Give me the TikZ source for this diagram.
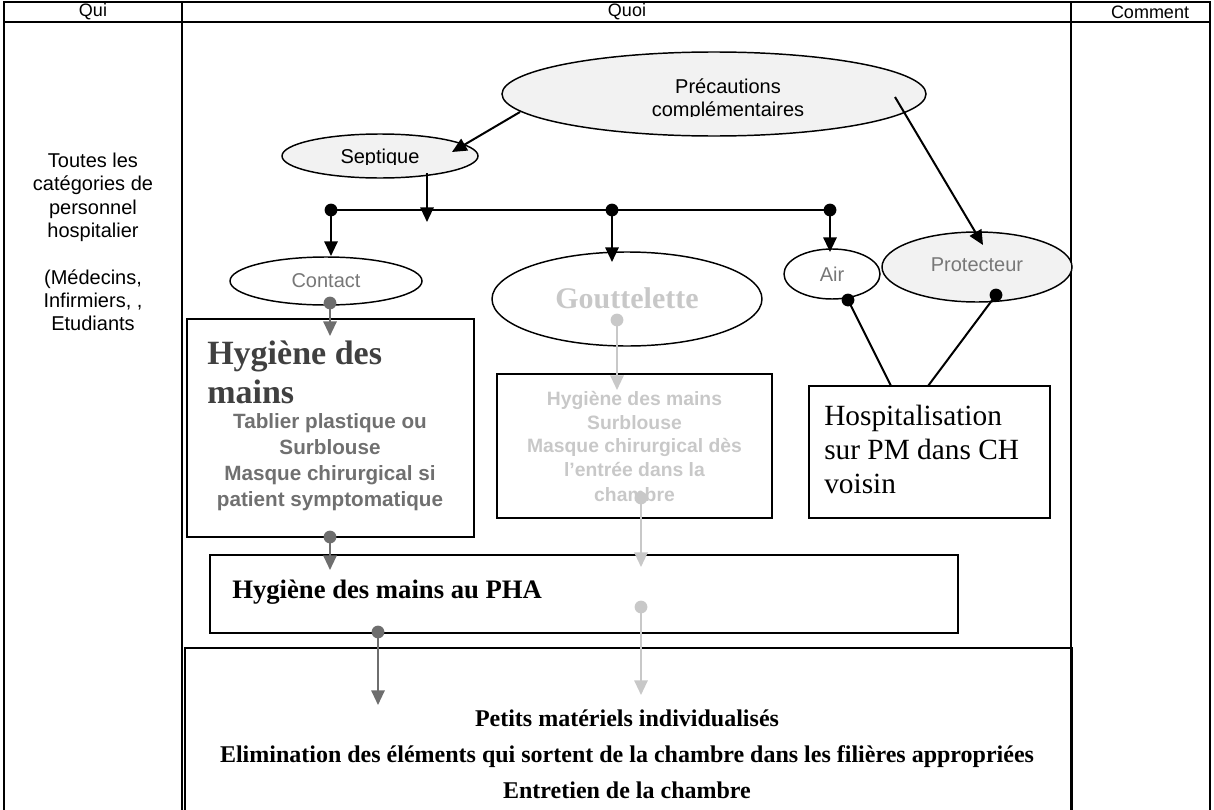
\documentclass[tikz,border=0pt]{standalone}
\usepackage{fontspec}
\setmainfont{Liberation Serif}
\newfontfamily\arialf{Liberation Sans}
\usetikzlibrary{arrows.meta,shapes.geometric}
\definecolor{lightfill}{HTML}{F2F2F2}
\definecolor{darkg}{HTML}{6E6E6E}
\definecolor{lightg}{HTML}{C8C8C8}
\definecolor{headg}{HTML}{404040}
\definecolor{txtg}{HTML}{707070}
\definecolor{lblg}{HTML}{777777}
\begin{document}
\begin{tikzpicture}[x=0.75pt,y=-0.75pt,
  tbl/.style={line width=1.4pt},
  ellnode/.style={draw, ellipse, line width=1.1pt, inner sep=0pt},
  boxnode/.style={draw, rectangle, line width=1.1pt, inner sep=0pt},
  conn/.style={line width=1.5pt, -{Triangle[length=11pt,width=10pt]}},
  plain/.style={line width=1.5pt},
  hdr/.style={font=\arialf\fontsize{13.5}{15}\selectfont, inner sep=0pt},
  lbl/.style={font=\arialf\fontsize{15}{17.5}\selectfont, inner sep=0pt, align=center},
  txt/.style={inner sep=0pt}
]
\useasboundingbox (0,0) rectangle (1214,810);
% table
\draw[tbl] (4,812) -- (4,2) -- (1210,2) -- (1210,812);
\draw[tbl] (4,22) -- (1210,22);
\draw[tbl] (182,2) -- (182,812);
\draw[tbl] (1071,2) -- (1071,812);
\node[hdr] (qui) at (93,12) {Qui};
\node[hdr] (quoi) at (627,12) {Quoi};
\node[hdr] (comment) at (1150,12) {Comment};
\node[lbl] (qui1) at (93,242) {Toutes les\\catégories de\\personnel\\hospitalier\\\mbox{}\\(Médecins,\\Infirmiers, ,\\Etudiants};

% ellipses
\node[ellnode, fill=lightfill, minimum width=318pt, minimum height=63pt] (prec) at (714,94) {};
\begin{scope}
\clip (480,60) rectangle (950,116);
\node[lbl] (prect) at (728,100) {Précautions\\complémentaires};
\end{scope}
\node[ellnode, fill=lightfill, minimum width=147pt, minimum height=33pt] (sept) at (380,156) {};
\begin{scope}
\clip (280,130) rectangle (480,164);
\node[lbl] (septt) at (380,158) {Septique};
\end{scope}
\node[ellnode, minimum width=144pt, minimum height=36pt, font=\arialf\fontsize{15}{17.5}\selectfont, text=lblg] (contact) at (326,281) {\raisebox{-3pt}{Contact}};
\node[ellnode, minimum width=202.5pt, minimum height=70.5pt, font=\bfseries\fontsize{22.5}{26}\selectfont, text=lightg] (goutt) at (627,299) {\raisebox{2pt}{Gouttelette}};
\node[ellnode, minimum width=72pt, minimum height=37.5pt, font=\arialf\fontsize{15}{17.5}\selectfont, text=lblg] (air) at (832,274) {Air};
\node[ellnode, fill=lightfill, minimum width=142.5pt, minimum height=52.5pt, font=\arialf\fontsize{15}{17.5}\selectfont, text=lblg] (prot) at (977,267) {\raisebox{4pt}{Protecteur}};

% boxes
\node[boxnode, minimum width=215.25pt, minimum height=163.5pt] (cbox) at (330.5,428) {};
\node[txt, anchor=west, font=\bfseries\fontsize{25.5}{29}\selectfont, text=headg, align=left] (cboxh) at (207,372.5) {Hygiène des\\mains};
\node[txt, font=\arialf\bfseries\fontsize{15.5}{19.5}\selectfont, text=txtg, align=center] (cboxt) at (330,462) {Tablier plastique ou\\Surblouse\\Masque chirurgical si\\patient symptomatique};

\node[boxnode, minimum width=206.25pt, minimum height=108pt, font=\arialf\bfseries\fontsize{14.5}{18}\selectfont, text=lightg, align=center] (gbox) at (634.5,446) {Hygiène des mains\\Surblouse\\Masque chirurgical dès\\l’entrée dans la\\chambre};

\node[boxnode, minimum width=180.75pt, minimum height=99pt] (hbox) at (929.5,452) {};
\node[txt, anchor=west, font=\fontsize{22}{25.5}\selectfont, align=left] (hboxt) at (824,449) {Hospitalisation\\sur PM dans CH\\voisin};

\node[boxnode, minimum width=561pt, minimum height=58.5pt] (pha) at (584,594) {};
\node[txt, anchor=west, font=\bfseries\fontsize{20}{24}\selectfont] (phat) at (232,592) {Hygiène des mains au PHA};

\node[boxnode, minimum width=665.25pt, minimum height=123pt] (bot) at (628.5,730) {};
\node[txt, font=\bfseries\fontsize{18}{27}\selectfont, align=center] (bott) at (627,754) {Petits matériels individualisés\\Elimination des éléments qui sortent de la chambre dans les filières appropriées\\Entretien de la chambre};

% coordinates
\coordinate (p1) at (520,112); \coordinate (s1) at (452,152);
\coordinate (p2) at (895,97);  \coordinate (pr1) at (983,245);
\coordinate (s2) at (427,173); \coordinate (b0) at (427,222);
\coordinate (d1) at (331,210); \coordinate (d2) at (612,210); \coordinate (d3) at (830,210);
\coordinate (c1) at (331,256); \coordinate (g1) at (612,262); \coordinate (a1) at (830,252);
\coordinate (ad) at (848,300); \coordinate (pd) at (996,295);
\coordinate (h1) at (891,386); \coordinate (h2) at (928,386);
\coordinate (cd) at (330,303); \coordinate (ct) at (330,336);
\coordinate (cbd) at (330,537); \coordinate (cbt) at (330,570);
\coordinate (gd) at (617,320); \coordinate (gt) at (617,390);
\coordinate (gbd) at (641,498); \coordinate (gbt) at (641,567);
\coordinate (phd1) at (641,607); \coordinate (pht1) at (641,695);
\coordinate (phd2) at (378,632); \coordinate (pht2) at (378,705);

% connectors
\draw[conn] (p1) -- (s1);
\draw[conn] (p2) -- (pr1);
\draw[conn] (s2) -- (b0);
\draw[plain] (d1) -- (d3);
\draw[conn] (d1) -- (c1);
\draw[conn] (d2) -- (g1);
\draw[conn] (d3) -- (a1);
\foreach \d in {d1,d2,d3,ad,pd} \fill (\d) circle[radius=4.8pt];
\draw[plain] (ad) -- (h1);
\draw[plain] (pd) -- (h2);
\draw[conn, darkg] (cd) -- (ct);
\draw[conn, darkg] (cbd) -- (cbt);
\draw[conn, darkg] (phd2) -- (pht2);
\foreach \d in {cd,cbd,phd2} \fill[darkg] (\d) circle[radius=4.8pt];
\draw[conn, lightg] (gd) -- (gt);
\draw[conn, lightg] (gbd) -- (gbt);
\draw[conn, lightg] (phd1) -- (pht1);
\foreach \d in {gd,gbd,phd1} \fill[lightg] (\d) circle[radius=4.8pt];
\end{tikzpicture}
\end{document}
